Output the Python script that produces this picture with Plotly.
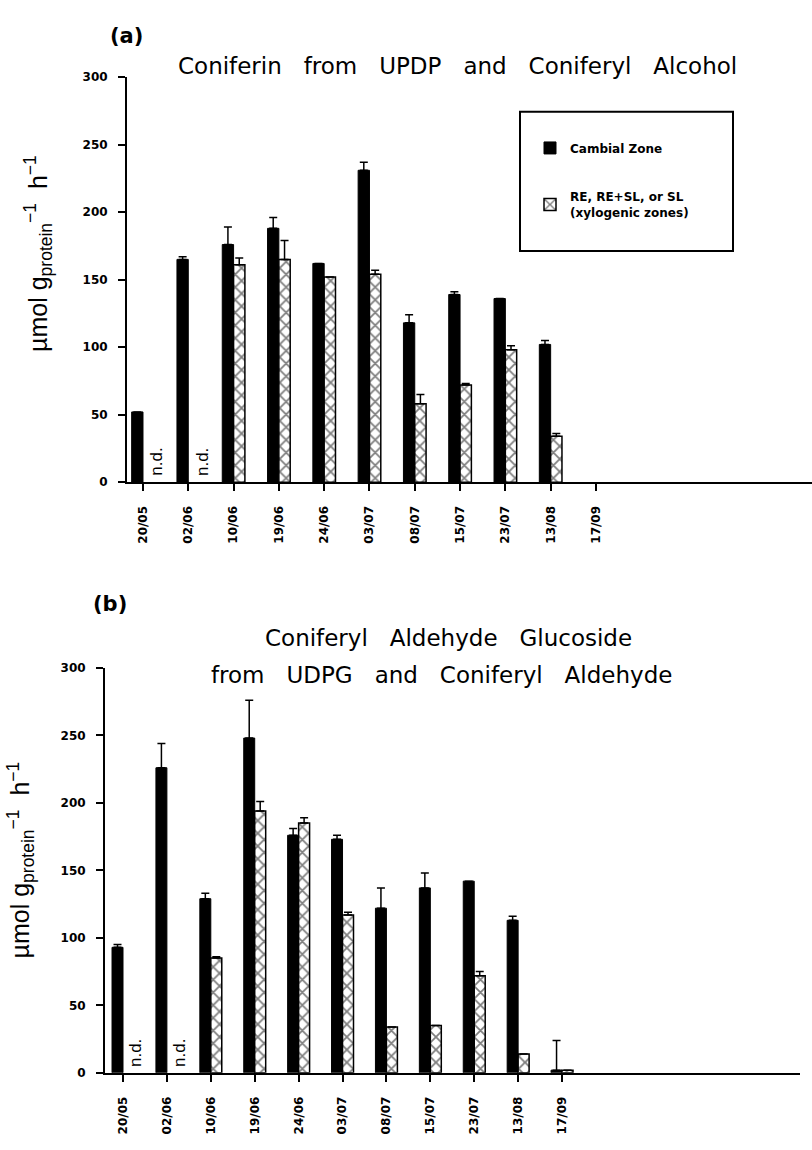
import plotly.graph_objects as go

# Sampling dates (day/month)
dates = ["20/05", "02/06", "10/06", "19/06", "24/06", "03/07",
         "08/07", "15/07", "23/07", "13/08", "17/09"]

# (a) Coniferin from UDPG and coniferyl alcohol, µmol g_protein^-1 h^-1
a_cambial = [52, 165, 176, 188, 162, 231, 118, 139, 136, 102, None]
a_cambial_err = [0, 2, 13, 8, 0, 6, 6, 2, 0, 3, None]
a_xylo = [None, None, 161, 165, 152, 154, 58, 72, 98, 34, None]
a_xylo_err = [None, None, 5, 14, 0, 3, 7, 1, 3, 2, None]

# (b) Coniferyl aldehyde glucoside from UDPG and coniferyl aldehyde
b_cambial = [93, 226, 129, 248, 176, 173, 122, 137, 142, 113, 2]
b_cambial_err = [2, 18, 4, 28, 5, 3, 15, 11, 0, 3, 22]
b_xylo = [None, None, 85, 194, 185, 117, 34, 35, 72, 14, 2]
b_xylo_err = [None, None, 1, 7, 4, 2, 0, 0, 3, 0, 0]

y_ticks = [0, 50, 100, 150, 200, 250, 300]

W, H = 812, 1150
def px_x(p):
    return p / W
def px_y(p):
    return 1 - p / H

TICK_FONT = dict(family="DejaVu Sans", size=12, color="black", weight="bold")
LINE = "black"
GAP = "\u00a0\u00a0\u00a0"

def err(vals):
    return dict(type="data", symmetric=False,
                array=[v if v is not None else 0 for v in vals],
                arrayminus=[0] * len(vals),
                color=LINE, thickness=1.5, width=4)

def cambial_trace(y, e, xa, ya, show):
    return go.Bar(x=dates, y=y, name="Cambial Zone", xaxis=xa, yaxis=ya,
                  marker=dict(color="black", line=dict(color="black", width=1)),
                  error_y=err(e), showlegend=show, legendgroup="c")

def xylo_trace(y, e, xa, ya, show):
    return go.Bar(x=dates, y=y, name="RE, RE+SL, or SL<br>(xylogenic zones)",
                  xaxis=xa, yaxis=ya,
                  marker=dict(color="white", line=dict(color="black", width=1.5),
                              pattern=dict(shape="x", fgcolor="black", bgcolor="white",
                                           size=9, solidity=0.35)),
                  error_y=err(e), showlegend=show, legendgroup="x")

fig = go.Figure()
fig.add_trace(cambial_trace(a_cambial, a_cambial_err, "x", "y", True))
fig.add_trace(xylo_trace(a_xylo, a_xylo_err, "x", "y", True))
fig.add_trace(cambial_trace(b_cambial, b_cambial_err, "x2", "y2", False))
fig.add_trace(xylo_trace(b_xylo, b_xylo_err, "x2", "y2", False))

def xaxis(domain, rng, anchor):
    return dict(domain=domain, range=rng, anchor=anchor, type="category",
                showline=True, linecolor=LINE, linewidth=2, showgrid=False,
                zeroline=False, ticks="outside", ticklen=7, tickwidth=1.5,
                tickcolor=LINE, tickangle=-90, tickfont=TICK_FONT,
                ticklabelstandoff=10)

def yaxis(domain, anchor):
    return dict(domain=domain, range=[0, 300], anchor=anchor,
                tickvals=y_ticks, showline=True, linecolor=LINE, linewidth=2,
                showgrid=False, zeroline=False, ticks="outside", ticklen=7,
                tickwidth=1.5, tickcolor=LINE, tickfont=TICK_FONT,
                ticklabelstandoff=8)

def label(text, x, y, size=23, family="DejaVu Sans", angle=0):
    return dict(text=text, x=px_x(x), y=px_y(y), xref="paper", yref="paper",
                xanchor="center", yanchor="middle", textangle=angle,
                showarrow=False, font=dict(family=family, size=size, color="black"))

ytitle = "µmol g<sub>protein</sub><sup>−1</sup>  h<sup>−1</sup>"
annotations = [
    label("<b>(a)</b>", 126, 29, size=21),
    label(GAP.join(["Coniferin", "from", "UPDP", "and", "Coniferyl", "Alcohol"]), 457, 60),
    label("<b>(b)</b>", 110, 604, size=21),
    label(GAP.join(["Coniferyl", "Aldehyde", "Glucoside"]), 448, 639),
    label(GAP.join(["from", "UDPG", "and", "Coniferyl", "Aldehyde"]), 442, 676),
    label(ytitle, 38, 250, size=25, family="Liberation Sans", angle=-90),
    label(ytitle, 21, 864, size=25, family="Liberation Sans", angle=-90),
]

# "n.d." marks where the xylogenic zones were not determined
for xr, yr, cam, xy in (("x", "y", a_cambial, a_xylo), ("x2", "y2", b_cambial, b_xylo)):
    for i, (c, v) in enumerate(zip(cam, xy)):
        if v is None and c is not None:
            annotations.append(dict(text="n.d.", textangle=-90, x=i + 0.3, y=0,
                                    xref=xr, yref=yr, xanchor="center",
                                    yanchor="bottom", yshift=4, showarrow=False,
                                    font=dict(family="Liberation Sans", size=17,
                                              color="black")))

fig.update_layout(
    width=W, height=H, margin=dict(l=0, r=0, t=0, b=0),
    paper_bgcolor="white", plot_bgcolor="white",
    barmode="group", bargap=0.5, bargroupgap=0,
    xaxis=xaxis([px_x(127), 1.0], [-0.353, 14.77], "y"),
    yaxis=yaxis([px_y(481), px_y(71)], "x"),
    xaxis2=xaxis([px_x(105), px_x(800)], [-0.41, 15.42], "y2"),
    yaxis2=yaxis([px_y(1079), px_y(669)], "x2"),
    annotations=annotations,
    shapes=[dict(type="rect", xref="paper", yref="paper",
                 x0=px_x(520), x1=px_x(733), y0=px_y(247), y1=px_y(106),
                 line=dict(color="black", width=2))],
    legend=dict(x=px_x(530), y=px_y(128), xanchor="left", yanchor="top",
                bgcolor="rgba(0,0,0,0)", borderwidth=0,
                font=dict(family="DejaVu Sans", size=12, color="black", weight="bold"),
                traceorder="grouped", tracegroupgap=30),
    font=dict(family="DejaVu Sans", color="black"),
)

fig.write_html("out.html")
